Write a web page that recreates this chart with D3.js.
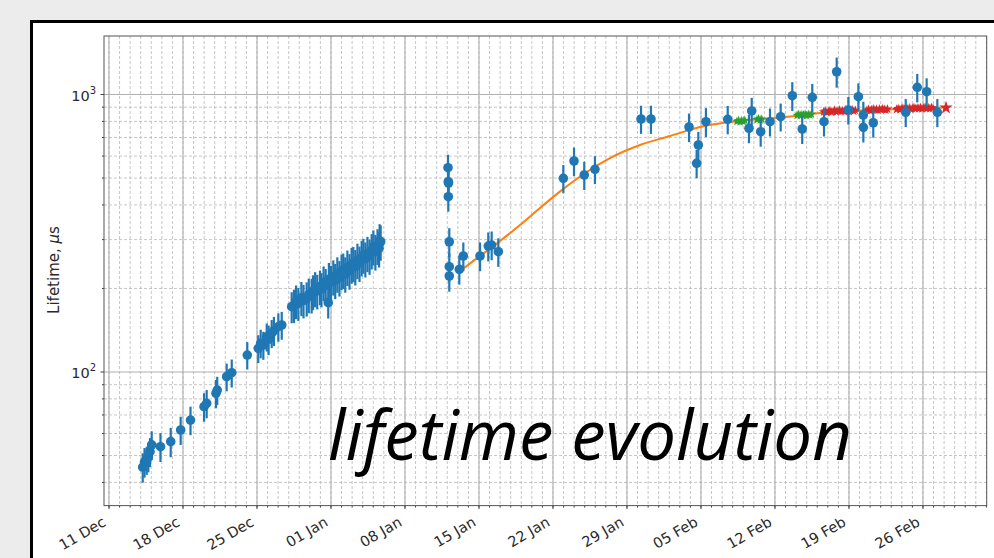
<!DOCTYPE html>
<html><head><meta charset="utf-8">
<script src="https://cdn.jsdelivr.net/npm/d3@7"></script>
<style>
html,body{margin:0;padding:0;background:#ececec;}
svg{display:block;}
</style></head>
<body>
<svg id="chart" width="994" height="558"></svg>
<script>
// ---------- DATA (days after 11 Dec 2017, lifetime in µs) ----------
const blueDays = [3.19,3.36,3.57,3.72,3.88,4.04,4.87,5.84,6.78,7.71,8.99,9.24,10.12,10.24,11.13,11.61,13.08,14.12,14.35,14.60,14.92,15.1,15.39,15.6,16.02,16.34,
 17.28,17.5,17.7,17.91,18.2,18.4,18.7,18.9,19.17,19.3,19.5,19.7,19.96,20.1,20.3,20.5,20.74,20.8,21.0,21.22,21.4,21.6,21.8,22.0,22.16,22.35,22.55,22.75,22.95,23.11,23.3,23.5,23.7,23.9,24.06,24.25,24.45,24.65,24.85,25.01,25.2,25.4,25.55,25.6,25.70,
 32.07,32.1,32.12,32.1,32.19,32.19,32.19,33.14,33.52,35.10,35.88,36.20,36.83,42.98,43.99,44.96,45.97,50.33,51.27,
 54.87,55.59,55.75,56.47,58.53,60.54,60.80,61.65,62.53,63.54,64.64,65.58,66.53,67.64,68.84,69.94,70.89,71.36,71.36,72.30,75.37,76.46,77.35,78.36];
const blueLife = [45.4,47.4,48.2,49.5,51.6,54.6,53.8,56.1,61.8,67.1,75.0,77.1,83.8,86.1,96.2,99.4,115.1,121.7,127,125.1,134.0,131,137.9,141,145.6,147.7,
 171.9,174,180,176.8,185,181,184.4,190,189.5,195,200,196,203,199,210,205,177.8,216,211,220.5,214,226,219,231,233.2,226,239,232,244,246.4,240,253,247,259,263.9,256,268,262,274,282.8,272,285,279,297,294.7,
 544.7,485.1,479.9,428.2,294.7,239.6,221.8,234.5,261.8,261.8,284.4,286.8,271.3,499,575.9,512.8,537.6,816.2,816.2,
 763.6,565,657.7,798,814,755.5,872.5,734.4,798,831.8,990,751,977,798,1208,879.6,981.9,843.7,761.6,791.2,862.8,1061.5,1023.5,862.8];
const blueErr = [5.5,5.8,5.6,6.0,6.2,6.5,6.4,6.8,7.2,7.9,8.8,9.0,9.8,10,11,11.5,13,14,15,14.5,15.5,16,16,17,17,17,
 22,24,25,24,26,25,26,27,27,28,29,28,29,28,30,30,22,31,30,32,31,33,32,34,34,33,35,34,36,36,35,37,36,38,38,37,39,38,40,41,40,42,41,44,43,
 62,56,55,50,35,28,27,28,31,31,34,34,32,58,68,60,62,95,95,
 90,66,76,95,95,88,100,86,92,96,118,88,115,92,150,100,115,98,90,92,100,125,120,100];

const fitDays = [33.52,35.10,36.99,38.88,40.77,42.95,45.19,47.39,50.23,53.07,55.91,59.69,63.48,67.26,71.04,74.83,79.18];
const fitLife = [236,262,296.5,338.7,390,456,525.7,590,657.7,708.6,763.6,802.8,826,858,876,886.4,898];

const greenDays = [59.4,59.55,59.7,59.85,60.0,60.15,61.3,61.45,61.6,61.75,65.1,65.25,65.4,65.55,65.7,65.85,66.0,66.15,66.3,66.45];
const greenLife = [800,806,798,804,801,807,812,818,810,815,842,848,840,846,843,849,841,847,844,850];

const redDays = [67.6,67.75,67.9,68.05,68.2,68.35,68.5,68.65,68.8,68.95,69.1,69.25,69.4,69.55,69.7,69.85,70.0,70.15,70.3,70.45,70.6,
 71.7,71.85,72.0,72.15,72.3,72.45,72.6,72.75,72.9,73.05,73.2,73.35,73.5,73.65,
 74.5,74.65,74.8,74.95,75.1,75.25,75.4,75.55,75.7,75.85,76.0,76.15,76.3,76.45,76.6,76.75,76.9,77.05,77.2,77.35,77.5,77.65,77.8,77.95];
const redLife = [866,872,861,869,874,864,870,877,866,872,879,868,874,870,880,873,868,876,882,871,878,
 878,884,875,881,887,879,884,877,886,881,889,883,879,886,
 884,890,882,888,893,885,891,887,894,886,892,897,889,895,890,897,888,894,899,891,896,890,897,893];
const lastStarDay = [79.18];
const lastStarLife = [896];

const yTickExps = [2, 3];
const yLabel = "Lifetime, ";
const titleText = "lifetime evolution";

// ---------- LAYOUT ----------
const svg = d3.select("#chart");
const L = 104, R = 986.7, T = 36, B = 505.6;
const base = new Date(2017, 11, 11);
const dateOf = d => new Date(base.getTime() + d * 864e5);

const x = d3.scaleTime().domain([dateOf(-0.473), dateOf(83.03)]).range([L, R]);
const y = d3.scaleLog().domain([33.0, 1625]).range([B, T]);

// outer frame
svg.append("rect").attr("x", 31.5).attr("y", 21.5).attr("width", 1100).attr("height", 700)
  .attr("fill", "#fff").attr("stroke", "#000").attr("stroke-width", 3);

// grid
const g = svg.append("g");
const minorDays = d3.timeDay.range(x.domain()[0], x.domain()[1]);
const majorDays = d3.timeMonday.range(x.domain()[0], x.domain()[1]);
const yMinor = [];
[10, 100, 1000].forEach(dec => { for (let k = 2; k <= 9; k++) { const v = k * dec; if (v > 33 && v < 1625) yMinor.push(v); } });
const yMajor = yTickExps.map(e => Math.pow(10, e));

g.selectAll(".vmin").data(minorDays).join("line")
  .attr("x1", d => x(d)).attr("x2", d => x(d)).attr("y1", T).attr("y2", B)
  .attr("stroke", "#b8b8b8").attr("stroke-width", 0.8).attr("stroke-dasharray", "3,2");
g.selectAll(".hmin").data(yMinor).join("line")
  .attr("x1", L).attr("x2", R).attr("y1", d => y(d)).attr("y2", d => y(d))
  .attr("stroke", "#b8b8b8").attr("stroke-width", 0.8).attr("stroke-dasharray", "3,2");
g.selectAll(".vmaj").data(majorDays).join("line")
  .attr("x1", d => x(d)).attr("x2", d => x(d)).attr("y1", T).attr("y2", B)
  .attr("stroke", "#b0b0b0").attr("stroke-width", 1.1);
g.selectAll(".hmaj").data(yMajor).join("line")
  .attr("x1", L).attr("x2", R).attr("y1", d => y(d)).attr("y2", d => y(d))
  .attr("stroke", "#b0b0b0").attr("stroke-width", 1.1);

// big overlay title (drawn under data)
const title = svg.append("text").text(titleText)
  .attr("x", 328).attr("y", 460)
  .attr("font-family", "'Open Sans','Noto Sans',sans-serif").attr("font-style", "italic")
  .attr("font-size", 68).attr("fill", "#000");
const tw = title.node().getComputedTextLength();
title.attr("font-size", 68 * 524 / tw);

// fit line
svg.append("path").datum(fitDays.map((d, i) => [d, fitLife[i]]))
  .attr("fill", "none").attr("stroke", "#ff7f0e").attr("stroke-width", 2)
  .attr("d", d3.line().curve(d3.curveMonotoneX).x(d => x(dateOf(d[0]))).y(d => y(d[1])));

// stars
const star = d3.symbol().type(d3.symbolStar);
svg.append("g").selectAll("path").data(greenDays.map((d, i) => [d, greenLife[i]])).join("path")
  .attr("d", star.size(28)).attr("fill", "#2ca02c")
  .attr("transform", d => `translate(${x(dateOf(d[0]))},${y(d[1])})`);
svg.append("g").selectAll("path").data(redDays.map((d, i) => [d, redLife[i]])).join("path")
  .attr("d", star.size(28)).attr("fill", "#d62728")
  .attr("transform", d => `translate(${x(dateOf(d[0]))},${y(d[1])})`);
svg.append("g").selectAll("path").data(lastStarDay.map((d, i) => [d, lastStarLife[i]])).join("path")
  .attr("d", d3.symbol().type(d3.symbolStar).size(55)).attr("fill", "#d62728")
  .attr("transform", d => `translate(${x(dateOf(d[0]))},${y(d[1])})`);

// blue points with error bars
const blue = blueDays.map((d, i) => ({ d, v: blueLife[i], e: blueErr[i] }));
const bg = svg.append("g");
bg.selectAll("line").data(blue).join("line")
  .attr("x1", p => x(dateOf(p.d))).attr("x2", p => x(dateOf(p.d)))
  .attr("y1", p => y(p.v - p.e)).attr("y2", p => y(p.v + p.e))
  .attr("stroke", "#1f77b4").attr("stroke-width", 2.2);
bg.selectAll("circle").data(blue).join("circle")
  .attr("cx", p => x(dateOf(p.d))).attr("cy", p => y(p.v)).attr("r", 4.8)
  .attr("fill", "#1f77b4");

// spines
svg.append("rect").attr("x", L).attr("y", T).attr("width", R - L).attr("height", B - T)
  .attr("fill", "none").attr("stroke", "#555").attr("stroke-width", 1);

// ticks
const tk = svg.append("g").attr("stroke", "#444").attr("stroke-width", 1);
tk.selectAll(".xmin").data(minorDays).join("line")
  .attr("x1", d => x(d)).attr("x2", d => x(d)).attr("y1", B).attr("y2", B + 2);
tk.selectAll(".xmaj").data(majorDays).join("line")
  .attr("x1", d => x(d)).attr("x2", d => x(d)).attr("y1", B).attr("y2", B + 3.5);
tk.selectAll(".ymin").data(yMinor).join("line")
  .attr("x1", L - 2).attr("x2", L).attr("y1", d => y(d)).attr("y2", d => y(d));
tk.selectAll(".ymaj").data(yMajor).join("line")
  .attr("x1", L - 3.5).attr("x2", L).attr("y1", d => y(d)).attr("y2", d => y(d));

// x tick labels
const fmt = d3.timeFormat("%d %b");
svg.append("g").selectAll("text").data(majorDays).join("text")
  .attr("transform", d => `translate(${x(d) - 2},525) rotate(-30)`)
  .attr("text-anchor", "end")
  .attr("font-family", "'DejaVu Sans',sans-serif").attr("font-size", 14.5).attr("fill", "#2a2a2a")
  .text(d => fmt(d));

// y tick labels
const yl = svg.append("g").selectAll("text").data(yTickExps).join("text")
  .attr("x", 96).attr("y", e => y(Math.pow(10, e)) + 6)
  .attr("text-anchor", "end")
  .attr("font-family", "'DejaVu Sans',sans-serif").attr("font-size", 14.5).attr("fill", "#2a2a2a");
yl.append("tspan").text("10");
yl.append("tspan").attr("dy", -6.5).attr("font-size", 10).text(e => e);

// y axis label
const yLab = svg.append("text")
  .attr("transform", "translate(59,270) rotate(-90)")
  .attr("text-anchor", "middle")
  .attr("font-family", "'DejaVu Sans',sans-serif").attr("font-size", 15).attr("fill", "#2a2a2a");
yLab.append("tspan").text(yLabel);
yLab.append("tspan").attr("font-style", "italic").text("μ");
yLab.append("tspan").text("s");
</script>
</body></html>
